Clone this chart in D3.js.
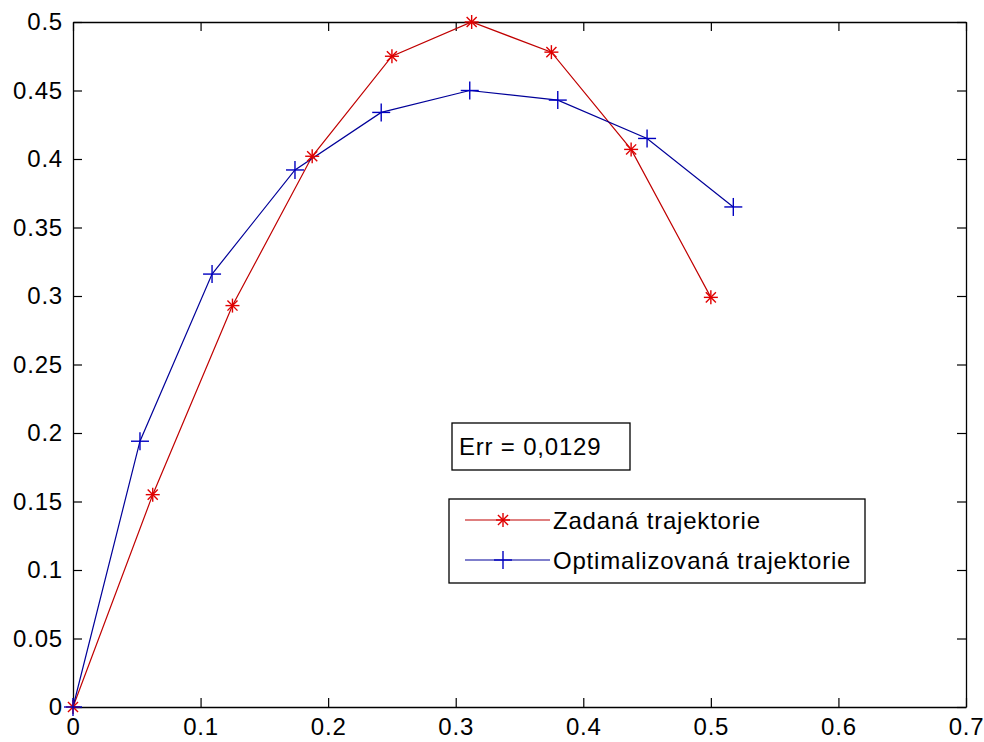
<!DOCTYPE html>
<html>
<head>
<meta charset="utf-8">
<script src="https://cdn.jsdelivr.net/npm/d3@7"></script>
<style>
  body { margin: 0; background: #fff; }
  text { font-family: "Liberation Sans", Arial, sans-serif; }
</style>
</head>
<body>
<script>
// data
const zadanaX = [0, 0.0625, 0.125, 0.1875, 0.25, 0.3125, 0.375, 0.4375, 0.5];
const zadanaY = [0, 0.155, 0.293, 0.402, 0.475, 0.5, 0.478, 0.407, 0.299];
const optX = [0, 0.0525, 0.109, 0.174, 0.2416, 0.311, 0.380, 0.450, 0.5176];
const optY = [0, 0.194, 0.316, 0.392, 0.434, 0.450, 0.443, 0.415, 0.365];
const xTicks = [0, 0.1, 0.2, 0.3, 0.4, 0.5, 0.6, 0.7];
const yTicks = [0, 0.05, 0.1, 0.15, 0.2, 0.25, 0.3, 0.35, 0.4, 0.45, 0.5];
const seriesNames = ["Zadaná trajektorie", "Optimalizovaná trajektorie"];
const errLabel = "Err = 0,0129";

const width = 984, height = 742;
const margin = { top: 22, right: 18, bottom: 35, left: 73 };
const w = width - margin.left - margin.right;
const h = height - margin.top - margin.bottom;

const svg = d3.select('body').append('svg')
  .attr('width', width)
  .attr('height', height);

const g = svg.append('g')
  .attr('transform', `translate(${margin.left},${margin.top})`);

const x = d3.scaleLinear().domain([0, 0.7]).range([0, w]);
const y = d3.scaleLinear().domain([0, 0.5]).range([h, 0]);

const fmt = d => d === 0 ? "0" : String(d);
const fs = 24;
const ls = '0.8px';

// axes, ticks drawn inward like matlab
const axB = g.append('g').attr('transform', `translate(0,${h})`)
  .call(d3.axisBottom(x).tickValues(xTicks).tickFormat(fmt).tickSizeInner(-9).tickSizeOuter(0).tickPadding(8));
const axL = g.append('g')
  .call(d3.axisLeft(y).tickValues(yTicks).tickFormat(fmt).tickSizeInner(-9).tickSizeOuter(0).tickPadding(10));
const axT = g.append('g')
  .call(d3.axisTop(x).tickValues(xTicks).tickFormat('').tickSizeInner(-9).tickSizeOuter(0));
const axR = g.append('g').attr('transform', `translate(${w},0)`)
  .call(d3.axisRight(y).tickValues(yTicks).tickFormat('').tickSizeInner(-9).tickSizeOuter(0));

[axB, axL, axT, axR].forEach(a => {
  a.selectAll('path').attr('stroke', '#000').attr('stroke-width', 1.3);
  a.selectAll('line').attr('stroke', '#000').attr('stroke-width', 1.2);
  a.selectAll('text').attr('font-size', fs).attr('fill', '#000')
    .style('letter-spacing', ls)
    .style('font-family', '"Liberation Sans", Arial, sans-serif');
});
axB.selectAll('text').attr('dy', '0.85em');

const line = d3.line().x(d => x(d[0])).y(d => y(d[1]));

function star(sel, s) {
  const p = sel.append('g').attr('stroke', '#e00000').attr('stroke-width', 1.4);
  p.append('line').attr('x1', -s).attr('x2', s).attr('y1', 0).attr('y2', 0);
  p.append('line').attr('x1', 0).attr('x2', 0).attr('y1', -s).attr('y2', s);
  const k = s * 0.72;
  p.append('line').attr('x1', -k).attr('x2', k).attr('y1', -k).attr('y2', k);
  p.append('line').attr('x1', -k).attr('x2', k).attr('y1', k).attr('y2', -k);
}
function plus(sel, s) {
  const p = sel.append('g').attr('stroke', '#0000c0').attr('stroke-width', 1.4);
  p.append('line').attr('x1', -s).attr('x2', s).attr('y1', 0).attr('y2', 0);
  p.append('line').attr('x1', 0).attr('x2', 0).attr('y1', -s).attr('y2', s);
}

const zadana = zadanaX.map((v, i) => [v, zadanaY[i]]);
const opt = optX.map((v, i) => [v, optY[i]]);

g.append('path').datum(zadana).attr('d', line)
  .attr('fill', 'none').attr('stroke', '#c00000').attr('stroke-width', 1.2);
g.append('path').datum(opt).attr('d', line)
  .attr('fill', 'none').attr('stroke', '#000099').attr('stroke-width', 1.2);

g.selectAll('.zm').data(zadana).enter().append('g')
  .attr('transform', d => `translate(${x(d[0])},${y(d[1])})`)
  .each(function() { star(d3.select(this), 7); });
g.selectAll('.om').data(opt).enter().append('g')
  .attr('transform', d => `translate(${x(d[0])},${y(d[1])})`)
  .each(function() { plus(d3.select(this), 9); });

// Err annotation box
const eb = svg.append('g').attr('transform', 'translate(452,423)');
eb.append('rect').attr('width', 178).attr('height', 47)
  .attr('fill', '#fff').attr('stroke', '#000').attr('stroke-width', 1.3);
eb.append('text').attr('x', 7).attr('y', 32).attr('font-size', fs)
  .style('letter-spacing', ls).text(errLabel);

// legend
const lg = svg.append('g').attr('transform', 'translate(449,499)');
lg.append('rect').attr('width', 416).attr('height', 84)
  .attr('fill', '#fff').attr('stroke', '#000').attr('stroke-width', 1.3);
const rows = [
  { name: seriesNames[0], color: '#c00000', mark: star, s: 7 },
  { name: seriesNames[1], color: '#000099', mark: plus, s: 9 }
];
rows.forEach((r, i) => {
  const ry = 21 + i * 40;
  lg.append('line').attr('x1', 16).attr('x2', 101).attr('y1', ry).attr('y2', ry)
    .attr('stroke', r.color).attr('stroke-width', 1.2);
  const m = lg.append('g').attr('transform', `translate(54,${ry})`);
  r.mark(m, r.s);
  lg.append('text').attr('x', 104).attr('y', ry + 9).attr('font-size', fs)
    .style('letter-spacing', ls).text(r.name);
});
</script>
</body>
</html>
